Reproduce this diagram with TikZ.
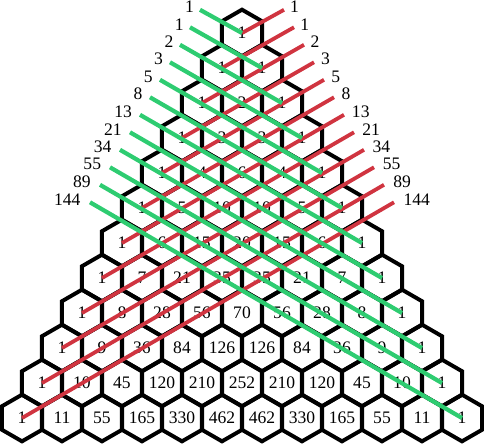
\documentclass[tikz,border=0pt]{standalone}
\usepackage{fontspec}
\setmainfont{Liberation Serif}
\usepackage{tikz}
\usetikzlibrary{shapes.geometric}

\definecolor{fibgreen}{RGB}{46,204,113}
\definecolor{fibred}{RGB}{208,52,64}

\tikzset{
  hexcell/.style={regular polygon, regular polygon sides=6, shape border rotate=30,
    minimum size=1.1667cm, inner sep=0pt, draw=black, line width=2.8pt},
  greenline/.style={draw=fibgreen, line width=3pt},
  redline/.style={draw=fibred, line width=2.7pt},
  fiblabel/.style={inner sep=0pt}
}

\begin{document}
\begin{tikzpicture}[font=\fontsize{12.5}{14}\selectfont]

 % margins of the picture
 \useasboundingbox (-6.05,-10.25) rectangle (6.05,0.825);

 % Pascal triangle, one hexagon per entry, row n at height -0.875 n
 \foreach \row [count=\n from 0] in {{1},{1,1},{1,2,1},{1,3,3,1},{1,4,6,4,1},
   {1,5,10,10,5,1},{1,6,15,20,15,6,1},{1,7,21,35,35,21,7,1},
   {1,8,28,56,70,56,28,8,1},{1,9,36,84,126,126,84,36,9,1},
   {1,10,45,120,210,252,210,120,45,10,1},{1,11,55,165,330,462,462,330,165,55,11,1}}
   \foreach \v [count=\k from 0] in \row
     \node (h-\n-\k) [hexcell] at ({\k-\n/2},{-0.875*\n}) {\v};

 % red diagonals: from the left 1 of row n up to the right, Fibonacci sum at the end
 \foreach \f [count=\n from 0] in {1,1,2,3,5,8,13,21,34,55,89,144} {
   \coordinate (rs-\n) at ({1.05+0.25*\n},{0.58-0.4375*\n});
   \draw [redline] (h-\n-0.center) -- (rs-\n);
   \node (rl-\n) [fiblabel, anchor=west] at ([xshift={4.1pt+0.23pt*\n}, yshift=2.2pt]rs-\n) {\f};
 }

 % green diagonals: from the right 1 of row n up to the left (drawn on top)
 \foreach \f [count=\n from 0] in {1,1,2,3,5,8,13,21,34,55,89,144} {
   \coordinate (gs-\n) at ({-1.05-0.25*\n},{0.58-0.4375*\n});
   \draw [greenline] (h-\n-\n.center) -- (gs-\n);
   \node (gl-\n) [fiblabel, anchor=east] at ([xshift={-4.1pt-0.23pt*\n}, yshift=2.2pt]gs-\n) {\f};
 }

\end{tikzpicture}
\end{document}
